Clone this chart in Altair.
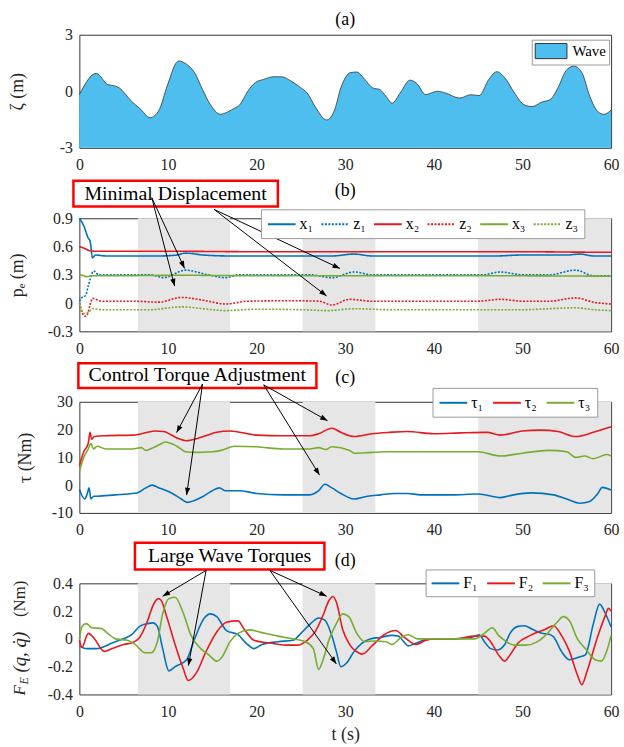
import math
import altair as alt
import pandas as pd

FONT = "Liberation Serif"
TXT = "#262626"
W = 536
HA, HB, HC, HD = 114, 114, 112, 112
BLUE, RED, GREEN = "#0072BD", "#E6191F", "#77AC30"
WAVE_FILL = "#4DBEEE"
BAND = "#E6E6E6"

x_ticks = [0, 10, 20, 30, 40, 50, 60]
band_start = [6.6, 25.2, 45.0]
band_end = [17.0, 33.4, 60.0]

# ---------------- (a) wave elevation ----------------
wave_t = [0, 1.9, 3.2, 4.1, 4.5, 5.9, 6.8, 8.0, 9.0, 9.9, 11.2, 12.1, 13.0, 13.9, 14.8, 15.9, 16.8, 17.5,
          18.1, 19.0, 19.9, 20.8, 21.9, 22.8, 23.9, 25.0, 25.7, 26.6, 27.9, 28.8, 29.5, 30.6, 31.3, 32.2,
          33.1, 33.9, 34.6, 35.3, 36.2, 37.3, 38.0, 39.1, 39.7, 40.4, 41.3, 42.9, 44.2, 45.1, 46.2, 47.1,
          48.0, 49.1, 50.2, 51.1, 52.2, 53.1, 54.0, 54.9, 55.8, 56.7, 57.6, 58.5, 59.2, 60]
wave_v = [-0.18, 0.95, 0.36, 0.27, 0.18, -0.54, -0.9, -1.4, -0.99, 0.27, 1.61, 1.43, 0.99, 0.09, -0.72,
          -1.22, -1.08, -0.9, -0.72, 0, 0.48, 0.63, 0.77, 0.77, 0.54, 0.18, -0.09, -0.81, -1.52, -0.99,
          0.18, 0.99, 1.02, 0.63, 0.18, 0.09, -0.27, -0.63, -0.09, 0.59, 0.45, -0.18, -0.09, 0, -0.09,
          -0.36, -0.18, -0.23, 0.63, 1.04, 0.72, -0.09, -0.72, -0.81, -0.57, -0.45, 0.18, 1.08, 1.34,
          0.99, -0.27, -1.08, -1.22, -0.99]
a_ticks = [-3, 0, 3]

# ---------------- (b) end-effector positions ----------------
x1_t = [0, 0.5, 1.0, 1.2, 1.5, 1.8, 3, 6, 9, 11, 12, 14, 17, 25, 28.5, 31, 33, 40, 47, 50, 55, 56.5, 58, 60]
x1_v = [0.9, 0.82, 0.69, 0.66, 0.48, 0.51, 0.5, 0.5, 0.5, 0.51, 0.53, 0.51, 0.5, 0.5, 0.5, 0.52, 0.5,
        0.5, 0.5, 0.51, 0.51, 0.52, 0.5, 0.5]
z1_t = [0, 0.3, 0.7, 1.0, 1.3, 1.6, 2.2, 5, 8, 9.5, 12, 14.5, 16.5, 18, 22, 26, 28.5, 31, 33, 36, 42,
        45.5, 47.5, 50, 53, 56, 58, 60]
z1_v = [0.02, 0.06, 0.08, 0.18, 0.28, 0.34, 0.3, 0.3, 0.3, 0.27, 0.35, 0.3, 0.27, 0.3, 0.3, 0.3, 0.27,
        0.33, 0.3, 0.3, 0.3, 0.3, 0.33, 0.3, 0.3, 0.35, 0.29, 0.29]
x2_t = [0, 0.6, 1.2, 2, 10, 20, 30, 40, 50, 58, 60]
x2_v = [0.6, 0.58, 0.555, 0.55, 0.55, 0.545, 0.545, 0.545, 0.545, 0.54, 0.54]
z2_t = [0, 0.3, 0.6, 0.9, 1.2, 1.5, 2.5, 6, 9, 11.5, 14, 16.5, 19, 24, 27, 28.5, 30.5, 33, 40, 45,
        47.5, 50, 53, 56, 58, 60]
z2_v = [0.0, -0.1, -0.14, -0.12, -0.02, 0.05, 0.02, 0.02, 0.01, 0.06, 0.03, -0.01, 0.02, 0.025, 0.02,
        -0.02, 0.04, 0.02, 0.02, 0.02, 0.04, 0.02, 0.02, 0.055, 0.01, -0.01]
x3_t = [0, 0.5, 0.8, 1.5, 3, 12, 20, 30, 45, 60]
x3_v = [0.3, 0.29, 0.28, 0.29, 0.29, 0.295, 0.29, 0.29, 0.29, 0.285]
z3_t = [0, 0.3, 0.6, 1.0, 1.5, 2.5, 8, 11.5, 14, 16.5, 20, 25, 28, 31, 35, 45, 50, 56, 58, 60]
z3_v = [0.0, -0.08, -0.11, -0.1, -0.06, -0.07, -0.07, -0.04, -0.06, -0.08, -0.065, -0.07, -0.08,
        -0.06, -0.07, -0.07, -0.07, -0.05, -0.07, -0.08]
b_ticks = [-0.3, 0, 0.3, 0.6, 0.9]

# ---------------- (c) control torques ----------------
tau1_t = [0, 0.6, 0.9, 1.1, 1.3, 1.6, 2, 4, 6, 6.5, 7.5, 8.2, 9, 10.5, 11.5, 12.2, 13, 14, 15, 15.8,
          16.5, 18, 20, 23, 26, 27, 27.7, 28.5, 29.5, 31, 32.5, 34, 35.5, 37, 38.5, 42, 45, 47.5, 49,
          51, 53.5, 55, 56.5, 57.5, 58.5, 59, 60]
tau1_v = [-1.5, -5, -3, -1, -5, -4, -4, -3.5, -3, -2.8, -1, 0, -1, -3, -5, -6.2, -5.5, -4, -2, -1, -2,
          -2, -3, -3.5, -3.5, -2, 0.3, -1, -3, -5, -4, -3.5, -3, -3, -3.5, -3.5, -3.2, -4.5, -3.5,
          -2.8, -3.5, -5, -6.5, -6, -3, -0.8, -1.8]
tau2_t = [0, 0.5, 1.0, 1.2, 1.4, 1.7, 3, 6, 7, 8.5, 9.5, 11, 12, 14, 15.5, 17, 20, 23, 26, 27, 28.5,
          29.5, 31, 33, 35, 37, 40, 43, 46, 47.5, 50, 52, 54, 56, 58, 59, 60]
tau2_v = [7, 12, 15, 19, 16.5, 17.5, 17.8, 18, 18.5, 19.5, 19.3, 17, 16, 17.5, 19, 19.5, 18, 17.8,
          17.8, 18.5, 20.5, 19, 17.5, 18.5, 19, 19.3, 18.5, 18.8, 19, 18, 19.5, 19.8, 19.3, 17.5, 19,
          20, 21]
tau3_t = [0, 0.5, 1.0, 1.3, 1.6, 2, 3, 6, 7, 7.5, 8, 9, 9.7, 11, 12, 13, 15, 16, 17.5, 20, 23, 26, 27,
          27.8, 28.5, 30.5, 31, 33, 35, 40, 45, 47.5, 50, 53, 55, 56, 57, 58, 59.5, 60]
tau3_v = [5, 10, 13, 15, 13, 14, 13, 13, 13.5, 12.5, 13, 14.5, 15.5, 14, 12, 11.8, 12, 12.5, 14, 13.8,
          13, 13, 13.5, 12.8, 13.8, 12.5, 11.5, 11.8, 12, 12, 12, 10.5, 11.5, 12.5, 12, 10, 10.5, 9.5,
          11, 10.5]
c_ticks = [-10, 0, 10, 20, 30]

# ---------------- (d) wave torques ----------------
f1_t = [0, 0.8, 1.9, 3.7, 4.5, 5.9, 6.8, 7.7, 8.3, 8.8, 9.4, 10.1, 10.8, 12.1, 13.0, 14.1, 14.8, 15.5,
        16.6, 17.9, 18.8, 19.7, 20.6, 22.4, 24.1, 25.0, 26.1, 27.0, 27.7, 28.4, 29.0, 29.5, 30.2, 31.0,
        31.9, 32.8, 33.9, 35.3, 36.0, 36.6, 37.1, 38.0, 38.8, 39.7, 42.4, 44.2, 45.1, 45.7, 46.4, 47.1,
        48.0, 48.6, 49.5, 50.2, 51.1, 52.2, 52.9, 53.5, 54.4, 55.3, 56.4, 57.1, 58.0, 58.7, 59.3, 60]
f1_v = [-0.05, -0.07, -0.07, -0.03, -0.01, 0.03, 0.09, 0.11, 0.115, 0.09, -0.07, -0.23, -0.2, -0.15,
        0.0, 0.15, 0.18, 0.16, 0.06, 0.03, -0.03, -0.07, -0.04, -0.02, -0.01, 0.04, 0.11, 0.15, 0.135,
        0.04, -0.09, -0.2, -0.17, -0.09, -0.03, 0.0, 0.01, 0.025, 0.02, -0.02, -0.05, -0.03, -0.01,
        0.0, 0.0, 0.01, 0.03, -0.02, -0.07, -0.08, -0.04, 0.04, 0.09, 0.095, 0.07, 0.04, 0.035, 0.015,
        -0.09, -0.15, -0.13, -0.115, 0.11, 0.25, 0.19, 0.085]
f2_t = [0, 0.3, 1.0, 1.6, 2.8, 3.7, 5.0, 5.9, 6.8, 7.7, 8.3, 8.9, 9.2, 9.9, 10.8, 11.7, 12.3, 13.2,
        14.3, 15.5, 16.6, 17.9, 18.6, 19.7, 21.5, 23.3, 24.6, 25.7, 26.6, 27.5, 28.2, 28.6, 29.0, 29.7,
        30.4, 31.5, 31.9, 33.1, 34.4, 35.7, 36.6, 38.0, 39.1, 40.2, 42.4, 44.6, 45.7, 46.4, 47.3, 48.0,
        48.6, 49.5, 50.9, 52.6, 53.5, 54.4, 55.3, 56.2, 56.7, 57.3, 58.4, 59.3, 59.7, 60]
f2_v = [-0.01, -0.06, 0.04, 0.01, -0.09, -0.07, -0.04, -0.03, 0.01, 0.13, 0.24, 0.29, 0.28, 0.15,
        -0.04, -0.21, -0.30, -0.245, -0.09, 0.05, 0.12, 0.13, 0.07, -0.01, -0.03, -0.045, -0.045,
        -0.01, 0.05, 0.17, 0.28, 0.305, 0.265, 0.07, -0.03, -0.10, -0.11, -0.045, 0.03, 0.06, 0.015,
        -0.04, -0.01, 0.0, 0.0, 0.02, 0.02, -0.02, -0.115, -0.16, -0.115, -0.03, 0.025, 0.07, 0.095,
        0.025, -0.09, -0.26, -0.33, -0.23, 0.0, 0.16, 0.22, 0.20]
f3_t = [0, 0.3, 0.8, 1.4, 2.5, 3.2, 4.1, 5.4, 6.3, 7.4, 8.1, 8.8, 9.4, 10.1, 10.8, 11.7, 12.6, 13.7,
        14.6, 15.5, 16.1, 17.0, 17.9, 19.2, 20.6, 22.4, 24.1, 25.5, 26.4, 27.0, 27.5, 28.2, 29.0, 29.7,
        30.4, 31.3, 32.2, 33.3, 34.6, 35.3, 36.2, 37.1, 38.2, 40.2, 42.4, 44.6, 45.7, 46.6, 47.3, 48.2,
        49.1, 50.4, 51.7, 52.6, 53.9, 54.6, 55.3, 56.2, 57.1, 58.2, 58.9, 59.6, 60]
f3_v = [0.0, 0.09, 0.11, 0.08, 0.075, 0.04, 0.0, -0.01, -0.04, -0.1, -0.1, -0.02, 0.18, 0.29, 0.3,
        0.19, 0.025, -0.07, -0.115, -0.16, -0.13, -0.02, 0.04, 0.065, 0.045, 0.02, 0.0, -0.02, -0.07,
        -0.22, -0.15, 0.0, 0.11, 0.18, 0.16, 0.04, -0.02, -0.015, -0.02, -0.04, 0.005, 0.03, 0.0, 0.0,
        0.0, 0.0, 0.04, 0.08, 0.025, -0.02, -0.045, -0.045, -0.02, 0.025, 0.12, 0.16, 0.13, 0.0, -0.07,
        -0.15, -0.16, -0.07, 0.025]
d_ticks = [-0.4, -0.2, 0, 0.2, 0.4]

# ---------------- annotations (data coordinates) ----------------
ann_b_box = [-0.67, 22.4, 1.025, 1.297]
ann_b_text = [10.86, 1.161]
ann_b_arrows = [(8.17, 1.119, 11.87, 0.368), (8.17, 1.119, 10.75, 0.18),
                (15.2, 0.994, 29.4, 0.368), (15.2, 0.994, 27.9, 0.075)]
ann_c_box = [-0.11, 26.75, 35.0, 43.9]
ann_c_text = [13.3, 39.5]
ann_c_arrows = [(13.9, 36.4, 10.97, 18.9), (13.9, 36.4, 12.1, -3.6),
                (20.8, 36.1, 28.0, 23.2), (20.8, 36.1, 27.1, 3.6)]
ann_d_box = [6.27, 27.65, 0.5, 0.693]
ann_d_text = [16.96, 0.596]
ann_d_arrows = [(14.3, 0.493, 9.4, 0.307), (14.3, 0.493, 12.3, -0.193),
                (21.5, 0.493, 27.9, 0.307), (21.5, 0.493, 29.0, -0.18)]

xs = alt.Scale(domain=[0, 60], nice=False, zero=False)

LINE_SYMBOL = "M-1,0H2.5"          # stroke symbol 28 px long in a 16 px legend cell
SWATCH_SYMBOL = "M-1,-0.95H3V0.95H-1Z"  # 32 x 15 px filled swatch


def xaxis(title=None):
    kw = dict(values=x_ticks, labelFontSize=16, labelPadding=9, ticks=False, domain=False, grid=False,
              labelFont=FONT, labelColor=TXT, labelFlush=False)
    if title:
        kw.update(title=title, titleFont=FONT, titleFontSize=18, titleFontWeight="normal",
                  titleColor=TXT, titlePadding=6)
    else:
        kw["title"] = None
    return alt.Axis(**kw)


def yaxis(ticks, title, h, tx):
    kw = dict(values=ticks, labelFontSize=16, labelPadding=7, ticks=False, domain=False, grid=False,
              labelFont=FONT, labelColor=TXT, labelExpr="'' + datum.value", labelFlush=False)
    if title:
        kw.update(title=title, titleFont=FONT, titleFontSize=18, titleFontWeight="normal",
                  titleColor=TXT, titleX=tx, titleY=h / 2, titleAngle=270, titleAlign="center",
                  titleBaseline="middle")
    else:
        kw["title"] = None
    return alt.Axis(**kw)


def make_enc(ydom, yticks, ytitle, h, tx, xtitle=None):
    ys = alt.Scale(domain=ydom, nice=False, zero=False)

    def X(f):
        return alt.X(f"{f}:Q", scale=xs, axis=xaxis(xtitle))

    def Y(f):
        return alt.Y(f"{f}:Q", scale=ys, axis=yaxis(yticks, ytitle, h, tx))
    return X, Y


def long_df(names, ts, vs):
    rows = []
    for n, tt, vv in zip(names, ts, vs):
        for a, b in zip(tt, vv):
            rows.append({"t": a, "v": b, "series": n})
    return pd.DataFrame(rows)


def legend(x, y, **kw):
    base = dict(orient="none", legendX=x, legendY=y, direction="horizontal", title=None,
                labelFont=FONT, labelFontSize=16, labelColor="black", strokeColor="#9a9a9a",
                fillColor="white", padding=5, labelOffset=15, columnPadding=4,
                symbolType=LINE_SYMBOL, symbolSize=256, symbolStrokeWidth=2)
    base.update(kw)
    return alt.Legend(**base)


def bands_layer(X):
    df = pd.DataFrame({"t": band_start, "t2": band_end})
    return alt.Chart(df).mark_rect(color=BAND).encode(x=X("t"), x2="t2:Q")


def label_layer(X, Y, text, v):
    df = pd.DataFrame({"t": [30], "v": [v], "label": [text]})
    return alt.Chart(df).mark_text(font=FONT, fontSize=18, color="black", align="center",
                                   baseline="middle").encode(x=X("t"), y=Y("v"), text="label:N")


def annotation_layers(X, Y, box, tpos, text, arrows, h, ydom):
    bdf = pd.DataFrame({"t": [box[0]], "t2": [box[1]], "v": [box[2]], "v2": [box[3]]})
    rect = alt.Chart(bdf).mark_rect(fill="white", stroke="#FF0000", strokeWidth=2.5).encode(
        x=X("t"), x2="t2:Q", y=Y("v"), y2="v2:Q")
    tdf = pd.DataFrame({"t": [tpos[0]], "v": [tpos[1]], "label": [text]})
    txt = alt.Chart(tdf).mark_text(font=FONT, fontSize=20, color="black", align="center",
                                   baseline="middle").encode(x=X("t"), y=Y("v"), text="label:N")
    kx = W / 60.0
    ky = h / (ydom[1] - ydom[0])
    rows = []
    for t0, v0, t1, v1 in arrows:
        dx = (t1 - t0) * kx
        dy = -(v1 - v0) * ky
        ang = math.degrees(math.atan2(dx, -dy)) % 360
        rows.append({"t": t0, "v": v0, "t2": t1, "v2": v1, "ang": ang})
    adf = pd.DataFrame(rows)
    rule = alt.Chart(adf).mark_rule(color="black", strokeWidth=1).encode(
        x=X("t"), y=Y("v"), x2="t2:Q", y2="v2:Q")
    heads = alt.Chart(adf).mark_point(shape="M0,0L-0.36,1L0.36,1Z", filled=True, color="black",
                                      opacity=1, size=220).encode(
        x=X("t2"), y=Y("v2"), angle=alt.Angle("ang:Q", scale=None))
    return [rect, txt, rule, heads]


# ---------- panel (a) ----------
Xa, Ya = make_enc([-3, 3], a_ticks, "ζ (m)", HA, -62)
wave_df = pd.DataFrame({"t": wave_t, "v": wave_v, "series": "Wave"})
area_a = alt.Chart(wave_df).mark_area(interpolate="monotone").encode(
    x=Xa("t"), y=Ya("v"), y2=alt.datum(-3),
    fill=alt.Fill("series:N", scale=alt.Scale(domain=["Wave"], range=[WAVE_FILL]),
                  legend=legend(456, 5, symbolType=SWATCH_SYMBOL, symbolSize=256,
                                symbolStrokeColor="#333333", symbolStrokeWidth=1, labelFontSize=15,
                                labelOffset=21, padding=3)))
line_a = alt.Chart(wave_df).mark_line(interpolate="monotone", color="#333333", strokeWidth=0.8).encode(
    x=Xa("t"), y=Ya("v"))
panel_a = alt.layer(area_a, line_a, label_layer(Xa, Ya, "(a)", 3.8)).properties(width=W, height=HA)

# ---------- panel (b) ----------
Xb, Yb = make_enc([-0.3, 0.9], b_ticks, "pₑ (m)", HB, -62)
b_names = ["x₁", "z₁", "x₂", "z₂", "x₃", "z₃"]
b_colors = [BLUE, BLUE, RED, RED, GREEN, GREEN]
b_dash = [[1, 0], [2, 1.5], [1, 0], [2, 1.5], [1, 0], [2, 1.5]]
b_df = long_df(b_names, [x1_t, z1_t, x2_t, z2_t, x3_t, z3_t], [x1_v, z1_v, x2_v, z2_v, x3_v, z3_v])
leg_b = legend(183, -9, padding=6, columnPadding=4)
lines_b = alt.Chart(b_df).mark_line(interpolate="monotone", strokeWidth=1.6).encode(
    x=Xb("t"), y=Yb("v"),
    color=alt.Color("series:N", scale=alt.Scale(domain=b_names, range=b_colors), legend=leg_b),
    strokeDash=alt.StrokeDash("series:N", scale=alt.Scale(domain=b_names, range=b_dash), legend=leg_b))
panel_b = alt.layer(bands_layer(Xb), lines_b, label_layer(Xb, Yb, "(b)", 1.19),
                    *annotation_layers(Xb, Yb, ann_b_box, ann_b_text, "Minimal Displacement",
                                       ann_b_arrows, HB, [-0.3, 0.9])).properties(width=W, height=HB)

# ---------- panel (c) ----------
Xc, Yc = make_enc([-10, 30], c_ticks, "τ (Nm)", HC, -54)
c_names = ["τ₁", "τ₂", "τ₃"]
c_df = long_df(c_names, [tau1_t, tau2_t, tau3_t], [tau1_v, tau2_v, tau3_v])
lines_c = alt.Chart(c_df).mark_line(interpolate="monotone", strokeWidth=1.6).encode(
    x=Xc("t"), y=Yc("v"),
    color=alt.Color("series:N", scale=alt.Scale(domain=c_names, range=[BLUE, RED, GREEN]),
                    legend=legend(356, -14, padding=6, columnPadding=5)))
panel_c = alt.layer(bands_layer(Xc), lines_c, label_layer(Xc, Yc, "(c)", 38.6),
                    *annotation_layers(Xc, Yc, ann_c_box, ann_c_text, "Control Torque Adjustment",
                                       ann_c_arrows, HC, [-10, 30])).properties(width=W, height=HC)

# ---------- panel (d) ----------
Xd, Yd = make_enc([-0.4, 0.4], d_ticks, None, HD, -60, xtitle="t (s)")
d_names = ["F₁", "F₂", "F₃"]
d_df = long_df(d_names, [f1_t, f2_t, f3_t], [f1_v, f2_v, f3_v])
lines_d = alt.Chart(d_df).mark_line(interpolate="monotone", strokeWidth=1.6).encode(
    x=Xd("t"), y=Yd("v"),
    color=alt.Color("series:N", scale=alt.Scale(domain=d_names, range=[BLUE, RED, GREEN]),
                    legend=legend(349, -14, padding=5, columnPadding=5)))

one = pd.DataFrame({"k": [0]})
title_parts = [
    ("F", -60, 113, 17, "italic"),
    ("E", -56, 102, 12, "italic"),
    ("(q,  q\u0307)", -60, 90, 19, "italic"),
    ("(Nm)", -60, 34, 17, "normal"),
]
d_title_layers = [
    alt.Chart(one).mark_text(text=txt, font=FONT, fontSize=fs, fontStyle=st, color=TXT, angle=270,
                             align="left", baseline="middle").encode(x=alt.value(px), y=alt.value(py))
    for txt, px, py, fs, st in title_parts
]
panel_d = alt.layer(bands_layer(Xd), lines_d, label_layer(Xd, Yd, "(d)", 0.564),
                    *annotation_layers(Xd, Yd, ann_d_box, ann_d_text, "Large Wave Torques",
                                       ann_d_arrows, HD, [-0.4, 0.4]),
                    *d_title_layers).properties(width=W, height=HD)

chart = alt.vconcat(panel_a, panel_b, panel_c, panel_d, spacing=71, bounds="flush").resolve_scale(
    x="independent", y="independent", color="independent", fill="independent",
    strokeDash="independent").resolve_legend(
    color="independent", fill="independent", strokeDash="independent").properties(
    padding={"left": 8, "top": 7, "right": 4, "bottom": 4}, background="white").configure(
    font=FONT).configure_view(stroke="#333333", strokeWidth=1)

chart.save("out.html", embed_options={"renderer": "svg", "actions": False})
